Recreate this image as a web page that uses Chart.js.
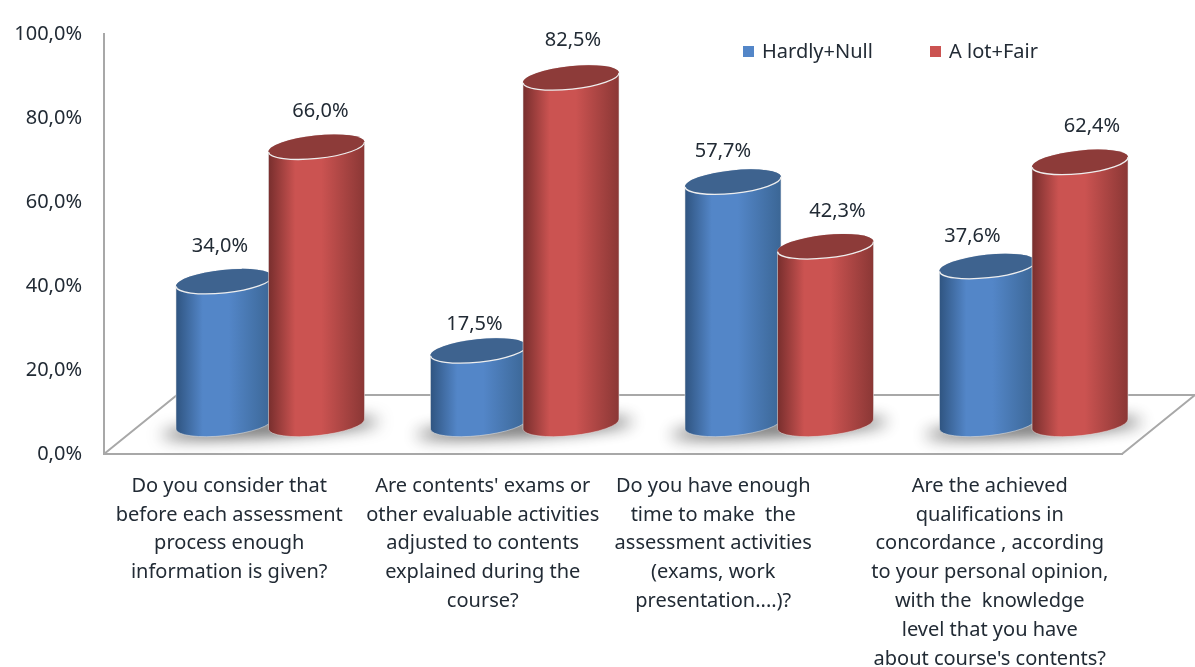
<!DOCTYPE html>
<html>
<head>
<meta charset="utf-8">
<title>Assessment survey</title>
<script src="https://cdn.jsdelivr.net/npm/chart.js@4/dist/chart.umd.min.js"></script>
<style>
  html, body { margin: 0; padding: 0; background: #fff; }
  canvas { display: block; }
</style>
</head>
<body>
<canvas id="chart" width="1195" height="667"></canvas>
<script>
const categories = [
  ["Do you consider that", "before each assessment", "process enough", "information is given?"],
  ["Are contents' exams or", "other evaluable activities", "adjusted to contents", "explained during the", "course?"],
  ["Do you have enough", "time to make  the", "assessment activities", "(exams, work", "presentation....)?"],
  ["Are the achieved", "qualifications in", "concordance , according", "to your personal opinion,", "with the  knowledge", "level that you have", "about course's contents?"],
];
const hardlyNull = [34.0, 17.5, 57.7, 37.6];
const aLotFair = [66.0, 82.5, 42.3, 62.4];
const yTicks = [0, 20, 40, 60, 80, 100];

const FONT = '"Noto Sans", sans-serif';
const TEXT = "#222b35";
const FLOOR = "#a8a8a8";
// 3D look: the floor goes back depthX/depthY, bars stand in the middle of it
const depthX = 73;
const depthY = 59;
const barShiftX = 39;
const tilt = -0.105;
const ellipseRy = 11.5;
// hand placed offsets, the original labels are not centred on their marks
const catLabelShift = [-2, -3, -27, -5];
const valueLabelShift = [[-4, -4, -10, -15], [4, 2, 12, 12]];
const valueLabelGap = [[35, 26, 31, 30], [36, 37, 35, 36]];

const palettes = [
  { edgeL: "#2f5480", mid: "#5386c8", edgeR: "#3b6695", top: "#3e638f" },
  { edgeL: "#772e2d", mid: "#cb5351", edgeR: "#8a3735", top: "#8d3b39" },
];

const pct = (v) => v.toFixed(1).replace(".", ",") + "%";

function drawCylinder(ctx, cx, topY, baseY, rx, pal) {
  const grad = ctx.createLinearGradient(cx - rx, 0, cx + rx, 0);
  grad.addColorStop(0, pal.edgeL);
  grad.addColorStop(0.28, pal.mid);
  grad.addColorStop(0.55, pal.mid);
  grad.addColorStop(1, pal.edgeR);

  ctx.beginPath();
  ctx.ellipse(cx, topY, rx, ellipseRy, tilt, Math.PI, 0);
  ctx.ellipse(cx, baseY, rx, ellipseRy, tilt, 0, Math.PI);
  ctx.closePath();
  ctx.fillStyle = grad;
  ctx.fill();
  ctx.strokeStyle = "rgba(225,225,225,0.55)";
  ctx.lineWidth = 1;
  ctx.stroke();

  ctx.beginPath();
  ctx.ellipse(cx, topY, rx, ellipseRy, tilt, 0, Math.PI * 2);
  ctx.fillStyle = pal.top;
  ctx.fill();
  ctx.beginPath();
  ctx.ellipse(cx, topY, rx, ellipseRy, tilt, 0, Math.PI);
  ctx.strokeStyle = "#eeeeee";
  ctx.lineWidth = 1.3;
  ctx.stroke();
}

const cylinders = {
  id: "cylinders",
  beforeDatasetsDraw(chart) {
    const { ctx, chartArea, scales } = chart;
    const yBase = scales.y.getPixelForValue(0);

    // floor
    ctx.save();
    ctx.strokeStyle = FLOOR;
    ctx.lineWidth = 2;
    ctx.beginPath();
    ctx.moveTo(chartArea.left, yBase);
    ctx.lineTo(chartArea.left + depthX, yBase - depthY);
    ctx.lineTo(chartArea.right + depthX, yBase - depthY);
    ctx.lineTo(chartArea.right, yBase);
    ctx.stroke();
    ctx.restore();
  },
  afterDatasetsDraw(chart) {
    const { ctx, scales } = chart;
    const metas = [chart.getDatasetMeta(0), chart.getDatasetMeta(1)];
    const barBase = scales.yBars.getPixelForValue(0);

    categories.forEach((_, i) => {
      const blue = metas[0].data[i];
      const red = metas[1].data[i];

      // soft shadow on the floor, shape itself stays off canvas
      ctx.save();
      ctx.shadowColor = "rgba(70,70,70,0.95)";
      ctx.shadowBlur = 16;
      ctx.shadowOffsetX = 3000;
      ctx.fillStyle = "#000";
      ctx.beginPath();
      ctx.ellipse(
        (blue.x + red.x) / 2 + barShiftX - 3000,
        barBase + 4,
        blue.width + 16,
        7,
        tilt * 0.6,
        0,
        Math.PI * 2
      );
      ctx.fill();
      ctx.restore();

      [blue, red].forEach((bar, d) => {
        drawCylinder(ctx, bar.x + barShiftX, bar.y, barBase, bar.width / 2 + 2, palettes[d]);
      });
    });

    // value labels
    ctx.save();
    ctx.font = "20px " + FONT;
    ctx.fillStyle = TEXT;
    ctx.textAlign = "center";
    ctx.textBaseline = "middle";
    metas.forEach((meta, d) => {
      meta.data.forEach((bar, i) => {
        const v = chart.data.datasets[d].data[i];
        ctx.fillText(pct(v), bar.x + barShiftX + valueLabelShift[d][i], bar.y - valueLabelGap[d][i]);
      });
    });

    // category labels
    categories.forEach((lines, i) => {
      const x = scales.x.getPixelForValue(i) + catLabelShift[i];
      lines.forEach((line, n) => {
        ctx.fillText(line, x, 486 + n * 28.8);
      });
    });

    // legend
    ctx.textAlign = "left";
    const legendX = [743, 930];
    chart.data.datasets.forEach((ds, d) => {
      ctx.fillStyle = palettes[d].mid;
      ctx.fillRect(legendX[d], 46, 11, 11);
      ctx.fillStyle = TEXT;
      ctx.fillText(ds.label, legendX[d] + 19, 52);
    });
    ctx.restore();
  },
};

new Chart(document.getElementById("chart"), {
  type: "bar",
  plugins: [cylinders],
  data: {
    labels: categories,
    datasets: [
      { label: "Hardly+Null", data: hardlyNull, backgroundColor: "transparent", yAxisID: "yBars" },
      { label: "A lot+Fair", data: aLotFair, backgroundColor: "transparent", yAxisID: "yBars" },
    ],
  },
  options: {
    responsive: false,
    animation: false,
    layout: { padding: { top: 14, right: 73, left: 0, bottom: 0 } },
    categoryPercentage: 0.727,
    barPercentage: 1,
    plugins: { legend: { display: false }, tooltip: { enabled: false } },
    scales: {
      x: {
        grid: { display: false, drawTicks: false },
        border: { color: FLOOR, width: 2 },
        ticks: { display: false },
        afterFit(scale) {
          scale.height = 213;
        },
      },
      y: {
        min: 0,
        max: 100,
        afterBuildTicks(scale) {
          scale.ticks = yTicks.map((value) => ({ value }));
        },
        grid: { display: false, drawTicks: false },
        border: { color: FLOOR, width: 2 },
        ticks: {
          padding: 22,
          color: TEXT,
          font: { family: FONT, size: 20 },
          callback: (v) => pct(v),
        },
        afterFit(scale) {
          scale.width = 104;
        },
      },
      // same px per %, bars just start further back on the floor
      yBars: { display: false, min: -7.1, max: 92.9 },
    },
  },
});
</script>
</body>
</html>
